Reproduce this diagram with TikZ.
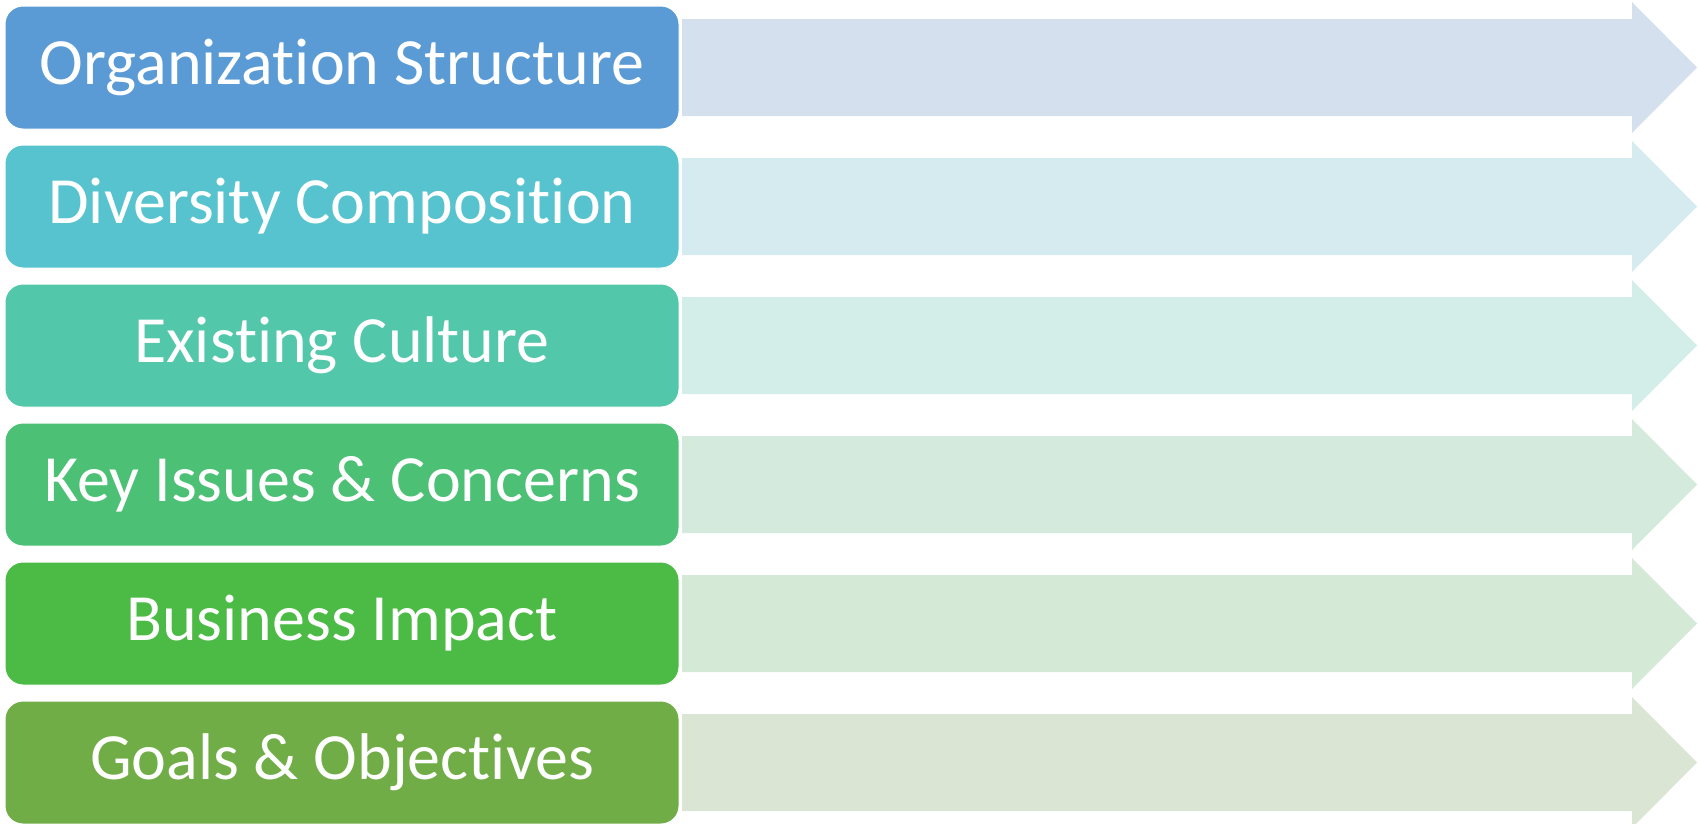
\documentclass[tikz,border=0pt]{standalone}
\usepackage{fontspec}
\setmainfont[Ligatures=NoCommon]{Carlito}
\definecolor{b1}{HTML}{5B9BD5}
\definecolor{b2}{HTML}{56C3CF}
\definecolor{b3}{HTML}{52C7A9}
\definecolor{b4}{HTML}{4CC075}
\definecolor{b5}{HTML}{4CBB46}
\definecolor{b6}{HTML}{70AD47}
\definecolor{a1}{HTML}{D5E0EF}
\definecolor{a2}{HTML}{D5EBEF}
\definecolor{a3}{HTML}{D3EDE8}
\definecolor{a4}{HTML}{D4EADC}
\definecolor{a5}{HTML}{D4E9D6}
\definecolor{a6}{HTML}{DAE5D3}
\tikzset{
  labelbox/.style={rounded corners=18pt, draw=white, line width=1pt, minimum width=674pt, minimum height=123pt, inner sep=0pt, text=white, font=\fontsize{66}{78}\selectfont},
  bandarrow/.style={draw=none}
}
\begin{document}
\begin{tikzpicture}[x=1pt,y=-1pt]
\useasboundingbox (0,0) rectangle (1698,823);
\foreach \i/\t in {1/Organization Structure,2/Diversity Composition,3/Existing Culture,4/Key Issues \& Concerns,5/Business Impact,6/Goals \& Objectives}{
  \pgfmathsetmacro{\cy}{67.5+139*(\i-1)}
  \fill[a\i] (682,\cy-48.5) -- (1632,\cy-48.5) -- (1632,\cy-65.5) -- (1697,\cy) -- (1632,\cy+65.5) -- (1632,\cy+48.5) -- (682,\cy+48.5) -- cycle;
  \node[labelbox, fill=b\i] (box\i) at (342,\cy) {\t};
}
\end{tikzpicture}
\end{document}
